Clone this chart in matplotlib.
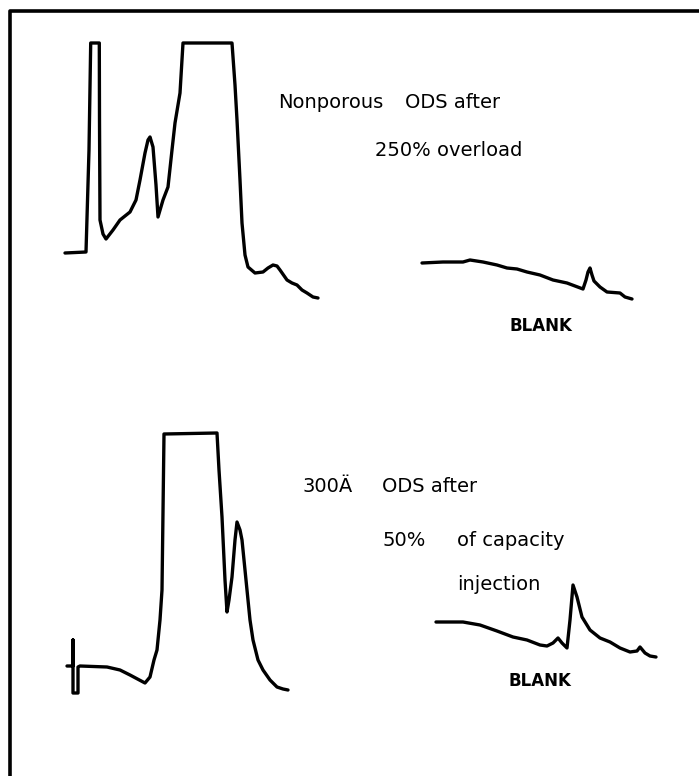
import matplotlib.pyplot as plt

# traces (x = chart time, y = detector response, page units)
upper_x = [65, 86, 89, 90.7, 99.3, 99.5, 100, 103, 106, 113, 120, 130, 136, 140, 145,
           148, 150, 153, 156, 158, 163, 168, 172, 175, 180, 183, 232, 235, 237, 240,
           242, 245, 248, 255, 263, 268, 273, 277, 280, 287, 292, 297, 302, 307, 313, 318]
upper_y = [253, 252, 150, 43, 43, 120, 220, 234, 239, 230, 220, 212, 200, 180, 153,
           140, 137, 147, 185, 217, 200, 187, 150, 123, 93, 43, 43, 85, 120, 180,
           223, 255, 267, 273, 272, 268, 265, 266, 270, 280, 283, 285, 290, 293, 297, 298]

upper_blank_x = [422, 443, 463, 470, 483, 497, 507, 517, 527, 540, 553, 567, 583, 586,
                 588, 590, 592, 594, 600, 607, 620, 625, 632]
upper_blank_y = [263, 262, 262, 260, 262, 265, 268, 269, 272, 275, 280, 283, 289, 280,
                 272, 268, 275, 281, 287, 292, 293, 297, 299]

lower_x = [67, 73, 73, 73, 78, 78, 80, 107, 120, 130, 145, 150, 154, 157, 160, 162,
           164, 217, 219, 222, 225, 227, 229, 232, 235, 237, 240, 242, 245, 247, 250,
           253, 258, 263, 270, 277, 283, 288]
lower_y = [666, 666, 640, 693, 693, 667, 666, 667, 670, 675, 683, 677, 660, 650, 620, 590,
           434, 433, 470, 517, 580, 612, 600, 577, 540, 522, 530, 540, 570, 590, 620,
           640, 660, 670, 680, 687, 689, 690]

lower_blank_x = [436, 463, 480, 497, 513, 527, 540, 547, 553, 558, 562, 567, 570, 573,
                 577, 582, 590, 600, 610, 620, 630, 637, 640, 645, 650, 656]
lower_blank_y = [622, 622, 625, 631, 637, 640, 645, 646, 643, 638, 643, 648, 620, 585,
                 597, 617, 630, 638, 642, 648, 652, 651, 647, 653, 656, 657]

fig = plt.figure(figsize=(6.99, 7.76), dpi=100)
ax = fig.add_axes([0, 0, 1, 1])
ax.set_xlim(0, 699)
ax.set_ylim(776, 0)
ax.axis('off')

trace = dict(color='black', lw=2.4, solid_joinstyle='round', solid_capstyle='round')
ax.plot(upper_x, upper_y, **trace)
ax.plot(upper_blank_x, upper_blank_y, **trace)
ax.plot(lower_x, lower_y, **trace)
ax.plot(lower_blank_x, lower_blank_y, **trace)

# frame: only left and top edges show on the page
ax.plot([10, 10, 699], [776, 11, 11], color='black', lw=2.6)

label = dict(fontsize=14, color='black', va='center', ha='left', family='DejaVu Sans')
ax.text(278, 102, 'Nonporous', **label)
ax.text(405, 102, 'ODS after', **label)
ax.text(375, 150, '250% overload', **label)
ax.text(303, 486, '300Ä', **label)
ax.text(382, 486, 'ODS after', **label)
ax.text(382, 541, '50%', **label)
ax.text(457, 541, 'of capacity', **label)
ax.text(457, 584, 'injection', **label)

blank = dict(fontsize=12, fontweight='bold', color='black', va='center', ha='center')
ax.text(541, 326, 'BLANK', **blank)
ax.text(540, 681, 'BLANK', **blank)

fig.savefig('out.png', dpi=100)
